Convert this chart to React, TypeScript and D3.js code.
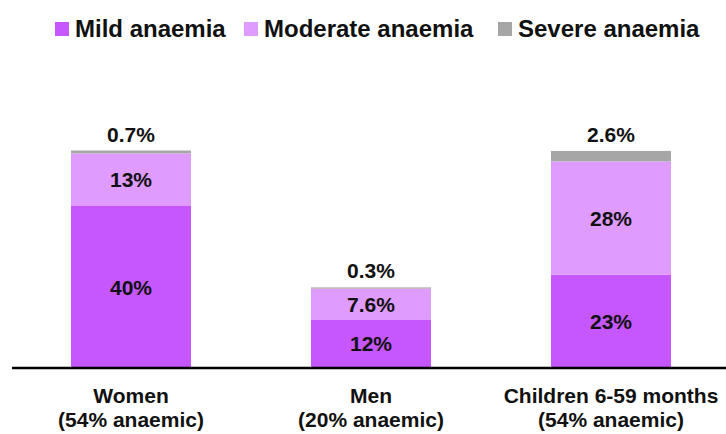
import React, { useEffect, useRef } from "react";
import * as d3 from "d3";

const groups = ["Women", "Men", "Children 6-59 months"];
const groupNotes = ["(54% anaemic)", "(20% anaemic)", "(54% anaemic)"];
const seriesNames = ["Mild anaemia", "Moderate anaemia", "Severe anaemia"];
const mild = [40, 12, 23];
const moderate = [13, 7.6, 28];
const severe = [0.7, 0.3, 2.6];
const valueLabels = [
  ["40%", "13%", "0.7%"],
  ["12%", "7.6%", "0.3%"],
  ["23%", "28%", "2.6%"],
];
const colors = ["#c657fe", "#df9bfd", "#a6a6a6"];

const W = 726;
const H = 434;
const FONT = "'Liberation Sans', Arial, Helvetica, sans-serif";

const App = () => {
  const svgRef = useRef<SVGSVGElement>(null);

  useEffect(() => {
    const svg = d3.select(svgRef.current);
    svg.selectAll("*").remove();

    const rows = groups.map((g, i) => ({
      group: g,
      i,
      mild: mild[i],
      moderate: moderate[i],
      severe: severe[i],
    }));
    const keys = ["mild", "moderate", "severe"];
    const stacked = d3.stack<any>().keys(keys)(rows);

    const x = d3.scaleBand().domain(groups).range([11, 731]).paddingInner(0.5).paddingOuter(0.25);
    const y = d3.scaleLinear().domain([0, 60]).range([368, 125]);

    // bars
    stacked.forEach((layer, k) => {
      svg
        .append("g")
        .selectAll("rect")
        .data(layer)
        .enter()
        .append("rect")
        .attr("x", (d: any) => x(d.data.group)!)
        .attr("width", x.bandwidth())
        .attr("y", (d) => y(d[1]))
        .attr("height", (d) => y(d[0]) - y(d[1]))
        .attr("fill", colors[k]);
    });

    // labels inside (mild, moderate) and above (severe)
    stacked.forEach((layer, k) => {
      svg
        .append("g")
        .selectAll("text")
        .data(layer)
        .enter()
        .append("text")
        .attr("x", (d: any) => x(d.data.group)! + x.bandwidth() / 2)
        .attr("y", (d) => (k < 2 ? (y(d[0]) + y(d[1])) / 2 + 7.5 : y(d[1]) - 9))
        .attr("text-anchor", "middle")
        .attr("font-family", FONT)
        .attr("font-weight", "bold")
        .attr("font-size", 21)
        .attr("fill", "#111")
        .text((d: any) => valueLabels[d.data.i][k]);
    });

    // axis line
    svg
      .append("line")
      .attr("x1", 12)
      .attr("x2", W)
      .attr("y1", y(0))
      .attr("y2", y(0))
      .attr("stroke", "#000")
      .attr("stroke-width", 2.5);

    // category labels
    const cat = svg
      .append("g")
      .selectAll("text")
      .data(groups)
      .enter()
      .append("text")
      .attr("x", (d) => x(d)! + x.bandwidth() / 2)
      .attr("y", 403)
      .attr("text-anchor", "middle")
      .attr("font-family", FONT)
      .attr("font-weight", "bold")
      .attr("font-size", 21)
      .attr("fill", "#111");
    cat.append("tspan").text((d) => d);
    cat
      .append("tspan")
      .attr("x", (d) => x(d)! + x.bandwidth() / 2)
      .attr("dy", 24)
      .text((_, i) => groupNotes[i]);

    // legend
    const legendX = [55, 244, 498];
    const legend = svg
      .append("g")
      .selectAll("g")
      .data(seriesNames)
      .enter()
      .append("g")
      .attr("transform", (_, i) => `translate(${legendX[i]},0)`);
    legend
      .append("rect")
      .attr("x", 0)
      .attr("y", 22)
      .attr("width", 14)
      .attr("height", 14)
      .attr("fill", (_, i) => colors[i]);
    legend
      .append("text")
      .attr("x", 20)
      .attr("y", 37)
      .attr("font-family", FONT)
      .attr("font-weight", "bold")
      .attr("font-size", 24)
      .attr("fill", "#111")
      .text((d) => d);
  }, []);

  return (
    <svg
      ref={svgRef}
      width={W}
      height={H}
      style={{ position: "absolute", left: 0, top: 0, background: "#fff" }}
    />
  );
};

export default App;
